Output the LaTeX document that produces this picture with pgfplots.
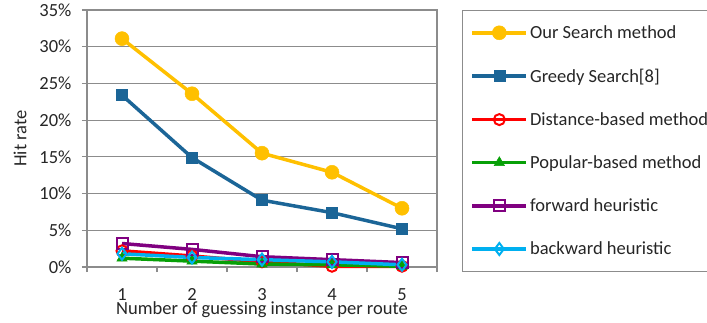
\documentclass[border=0pt]{standalone}
\usepackage{pgfplots}
\pgfplotsset{compat=1.18}
\usepackage{fontspec}
\setmainfont{Carlito}
\definecolor{cOur}{HTML}{FFC000}
\definecolor{cGreedy}{HTML}{1B6597}
\definecolor{cDist}{HTML}{FF0000}
\definecolor{cPop}{HTML}{07A007}
\definecolor{cFwd}{HTML}{800080}
\definecolor{cBwd}{HTML}{00B0F0}
\definecolor{axgray}{HTML}{8C8C8C}
\definecolor{txt}{HTML}{262626}
\newcommand{\chartfont}{\fontsize{18.5}{22}\selectfont}
\begin{document}
\begin{tikzpicture}[x=1pt,y=1pt]
\useasboundingbox (0,0) rectangle (707,322);
\begin{axis}[
  at={(87pt,55pt)}, anchor=south west,
  scale only axis, width=350pt, height=257pt,
  xmin=0.5, xmax=5.5, ymin=0, ymax=35,
  xtick={1,2,3,4,5}, major x tick style={draw=none},
  minor xtick={0.5,1.5,2.5,3.5,4.5,5.5},
  minor tick length=5pt,
  ytick={0,5,...,35}, yticklabel={\pgfmathprintnumber{\tick}\%},
  major tick length=5pt,
  tick align=outside, xtick pos=bottom, ytick pos=left,
  ymajorgrids, grid style={axgray, line width=1.2pt},
  axis line style={axgray, line width=1.2pt},
  tick style={axgray, line width=1.2pt},
  every tick label/.append style={font=\chartfont, text=txt},
  /pgf/number format/assume math mode=true,
  xticklabel style={anchor=base, yshift=-28pt, inner sep=0pt, text depth=0pt},
  yticklabel style={xshift=-7pt},
  xlabel={Number of guessing instance per route},
  ylabel={Hit rate},
  label style={font=\chartfont, text=txt},
  xlabel style={at={(axis description cs:0.5,0)}, anchor=base, yshift=-47.5pt, inner sep=0pt, text height=10pt},
  ylabel style={at={(axis description cs:-0.191,0.5)}, anchor=center},
  every axis plot/.append style={line width=3.5pt},
  legend style={at={(rel axis cs:1.0714,1)}, anchor=north west,
    draw=axgray, line width=1.2pt, inner xsep=8pt, inner ysep=13pt,
    font=\chartfont, text=txt,
    row sep=24.8pt,
    nodes={inner sep=2pt, anchor=west}},
  legend cell align=left,
  legend image code/.code={\draw[line width=3.5pt, mark repeat=2,mark phase=2] plot coordinates {(0pt,0pt) (27pt,0pt) (54pt,0pt)};},
  clip=false,
]
\addplot[cOur, mark=*, mark size=7pt, mark options={fill=cOur, line width=0.5pt}]
  coordinates {(1,31.1) (2,23.6) (3,15.5) (4,12.9) (5,8.0)};
\addlegendentry{Our Search method}
\addplot[cGreedy, mark=square*, mark size=5.5pt, mark options={fill=cGreedy, line width=0.5pt}]
  coordinates {(1,23.4) (2,14.9) (3,9.1) (4,7.4) (5,5.2)};
\addlegendentry{Greedy Search[8]}
\addplot[cDist, mark=o, mark size=5.5pt, mark options={fill=white, line width=2pt}]
  coordinates {(1,2.2) (2,1.5) (3,0.7) (4,0.1) (5,0.1)};
\addlegendentry{Distance-based method}
\addplot[cPop, mark=triangle*, mark size=6pt, mark options={fill=cPop, line width=0.5pt}]
  coordinates {(1,1.2) (2,0.8) (3,0.4) (4,0.3) (5,0.1)};
\addlegendentry{Popular-based method}
\addplot[cFwd, mark=square, mark size=5.5pt, mark options={fill=white, line width=2pt}]
  coordinates {(1,3.2) (2,2.4) (3,1.4) (4,1.0) (5,0.6)};
\addlegendentry{forward heuristic}
\addplot[cBwd, mark=diamond, mark size=6pt, mark options={fill=white, line width=2pt}]
  coordinates {(1,1.8) (2,1.3) (3,1.0) (4,0.7) (5,0.3)};
\addlegendentry{backward heuristic}
\end{axis}
\end{tikzpicture}
\end{document}
